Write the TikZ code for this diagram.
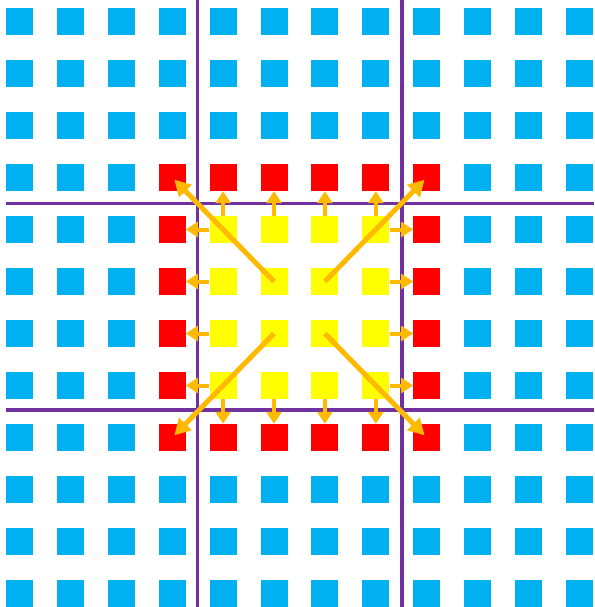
\documentclass[tikz,border=0pt]{standalone}
\usepackage{tikz}
\usetikzlibrary{arrows.meta,positioning}
\definecolor{cblue}{HTML}{00B0F0}
\definecolor{cred}{HTML}{FF0000}
\definecolor{cyellow}{HTML}{FFFF00}
\definecolor{cpurple}{HTML}{7030A0}
\definecolor{carrow}{HTML}{FFB900}
\tikzset{
  cell/.style    = {rectangle, inner sep=0pt, minimum width=27pt,
                    minimum height=27pt},
  divider/.style = {cpurple, line width=3.8pt},
  push/.style    = {-{Triangle[width=15pt,length=12pt]}, carrow,
                    line width=4pt},
  spread/.style  = {-{Triangle[width=17pt,length=16pt]}, carrow,
                    line width=5pt, shorten >=3pt},
}
\begin{document}
\begin{tikzpicture}[x=1pt,y=-1pt]
\useasboundingbox (0,0) rectangle (594,607);
\foreach \i in {0,...,11}{
  \foreach \j in {0,...,11}{
    \pgfmathtruncatemacro\ring{max(abs(2*\i-11),abs(2*\j-11))}
    \ifnum\ring<4 \def\cellcol{cyellow}\else
      \ifnum\ring<6 \def\cellcol{cred}\else\def\cellcol{cblue}\fi\fi
    \node[cell,fill=\cellcol] (c\i-\j) at ({19.5+50.9*\i},{21.5+52*\j}) {};
  }}
% block boundaries
\draw[divider] (197.5,0) -- (197.5,607);
\draw[divider] (402,0) -- (402,607);
\draw[divider] (6,203.5) -- (594,203.5);
\draw[divider] (6,410) -- (594,410);
% edge cells push outwards
\foreach \k in {4,...,7}{
  \draw[push] (c\k-4.north) -- (c\k-3.south);
  \draw[push] (c\k-7.south) -- (c\k-8.north);
  \draw[push] (c4-\k.west) -- (c3-\k.east);
  \draw[push] (c7-\k.east) -- (c8-\k.west);
}
% corners
\draw[spread] (c5-5.center) -- (c3-3.center);
\draw[spread] (c6-5.center) -- (c8-3.center);
\draw[spread] (c5-6.center) -- (c3-8.center);
\draw[spread] (c6-6.center) -- (c8-8.center);
\end{tikzpicture}
\end{document}
